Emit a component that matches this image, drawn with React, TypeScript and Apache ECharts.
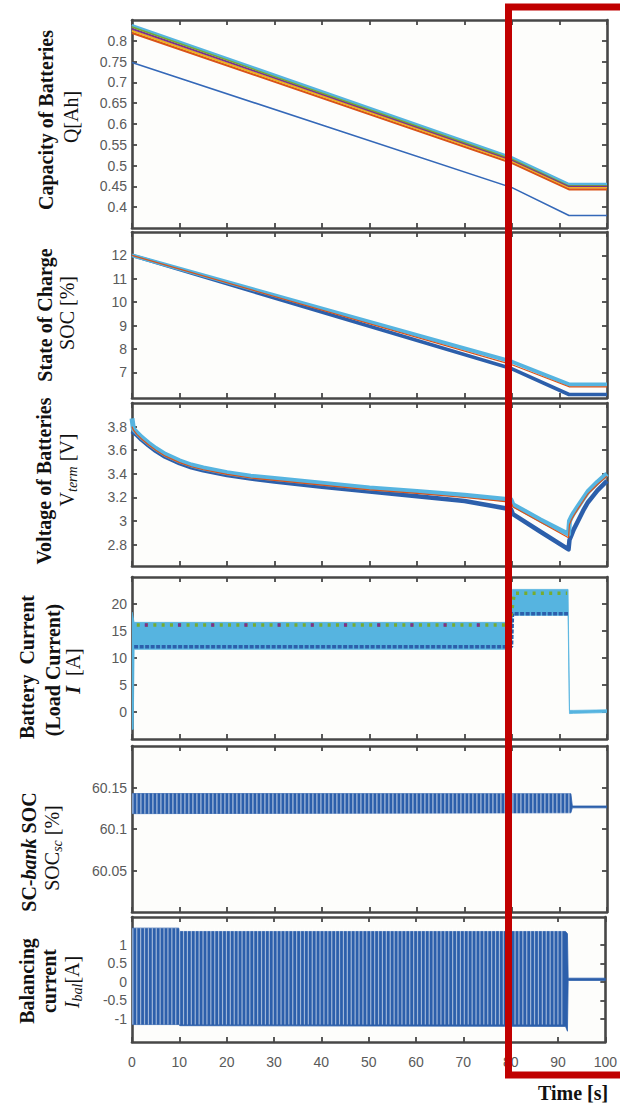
import React, { useEffect, useRef } from "react";
import * as echarts from "echarts";

// ---------- data ----------
const X_TICKS = [0, 10, 20, 30, 40, 50, 60, 70, 80, 90, 100];

// Panel 1: capacity of batteries Q [Ah]
const CAP_T = [0, 80, 92, 100];
const CAP_BLUE = [0.748, 0.447, 0.38, 0.38];
const CAP_ORANGE = [0.819, 0.506, 0.443, 0.443];
const CAP_YELLOW = [0.824, 0.511, 0.448, 0.448];
const CAP_PURPLE = [0.829, 0.514, 0.451, 0.451];
const CAP_GREEN = [0.834, 0.517, 0.454, 0.454];
const CAP_CYAN = [0.838, 0.52, 0.456, 0.456];
const CAP_TICKS = [0.4, 0.45, 0.5, 0.55, 0.6, 0.65, 0.7, 0.75, 0.8];

// Panel 2: state of charge [%]
const SOC_T = [0, 80, 92, 100];
const SOC_BLUE = [12, 7.15, 6.05, 6.05];
const SOC_ORANGE = [12, 7.32, 6.38, 6.38];
const SOC_CYAN = [12, 7.45, 6.48, 6.48];
const SOC_TICKS = [7, 8, 9, 10, 11, 12];

// Panel 3: terminal voltage [V]
const V_T = [0, 0.3, 1, 2, 3.5, 5, 7, 10, 12.5, 15, 20, 25, 30, 40, 50, 60, 70, 79.8, 80.2, 86, 91.9, 92.1, 92.5, 93, 94, 95, 96, 97, 98, 99, 100];
const V_CYAN = [3.87, 3.78, 3.75, 3.71, 3.66, 3.615, 3.565, 3.51, 3.475, 3.45, 3.41, 3.38, 3.36, 3.32, 3.28, 3.25, 3.22, 3.18, 3.14, 3.01, 2.89, 3.0, 3.035, 3.07, 3.13, 3.19, 3.25, 3.29, 3.33, 3.365, 3.4];
const V_ORANGE = [3.8, 3.77, 3.735, 3.695, 3.645, 3.6, 3.55, 3.495, 3.46, 3.435, 3.395, 3.365, 3.345, 3.305, 3.265, 3.235, 3.2, 3.16, 3.12, 2.99, 2.86, 2.97, 3.01, 3.045, 3.11, 3.17, 3.23, 3.27, 3.31, 3.345, 3.38];
const V_BLUE = [3.76, 3.75, 3.73, 3.69, 3.64, 3.595, 3.545, 3.49, 3.455, 3.43, 3.39, 3.36, 3.335, 3.29, 3.25, 3.21, 3.17, 3.1, 3.06, 2.91, 2.76, 2.84, 2.88, 2.93, 3.01, 3.09, 3.16, 3.21, 3.26, 3.3, 3.34];
const V_TICKS = [2.8, 3, 3.2, 3.4, 3.6, 3.8];

// Panel 4: battery current [A]
const I_T = [0, 0.25, 0.45, 79.9, 80.1, 91.8, 92.1, 93, 100];
const I_LO = [-3.2, -3.2, 11.6, 11.6, 17.9, 17.9, -0.3, -0.25, -0.1];
const I_HI = [18.5, 17.5, 16.6, 16.6, 22.7, 22.7, 0.3, 0.3, 0.4];
const I_BLUE_T = [0.45, 79.9, 80.1, 91.8];
const I_BLUE = [12.1, 12.1, 18.2, 18.2];
const I_GREEN_T = [1, 79.5, 80.5, 91.6];
const I_GREEN = [16.1, 16.1, 22.0, 22.0];
const I_PURPLE_T = [1, 79.5];
const I_PURPLE = [16.1, 16.1];
const I_TICKS = [0, 5, 10, 15, 20];

// Panel 5: SC-bank SOC [%]
const SC_T = [0, 92.4, 92.7, 100];
const SC_LO = [60.1185, 60.1195, 60.1255, 60.1255];
const SC_HI = [60.1427, 60.1425, 60.1277, 60.1277];
const SC_TICKS = [60.05, 60.1, 60.15];

// Panel 6: balancing current [A]
const BAL_T = [0, 9.9, 10.1, 91.6, 92.0, 92.15, 100];
const BAL_LO = [-1.15, -1.15, -1.18, -1.2, -1.33, 0.04, 0.04];
const BAL_HI = [1.45, 1.45, 1.36, 1.36, 1.3, 0.1, 0.1];
const BAL_TICKS = [-1, -0.5, 0, 0.5, 1];

// ---------- layout / style ----------
const SERIF = "'Liberation Serif', 'Times New Roman', serif";
const SANS = "'Liberation Sans', Arial, sans-serif";
const FRAME = "#474747";
const LABEL = "#5a5a5a";
const C_BLUE = "#2c5fab";
const C_CYAN = "#56b4e0";
const C_ORANGE = "#d95319";
const C_YELLOW = "#edb120";
const C_PURPLE = "#7e2f8e";
const C_GREEN = "#77ac30";

const GRIDS = [
  { top: 20, h: 208, min: 0.35, max: 0.85, ticks: CAP_TICKS },
  { top: 232, h: 166, min: 5.9, max: 13, ticks: SOC_TICKS },
  { top: 403, h: 163, min: 2.62, max: 4.0, ticks: V_TICKS },
  { top: 577, h: 162, min: -5, max: 25, ticks: I_TICKS },
  { top: 746, h: 166, min: 60, max: 60.2, ticks: SC_TICKS },
  { top: 917, h: 125, min: -1.62, max: 1.75, ticks: BAL_TICKS },
];
const LEFT = 132;
const PW = 475;

const zip = (t: number[], v: number[]) => t.map((x, i) => [x, v[i]]);

function line(gi: number, t: number[], v: number[], color: string, width: number, extra: any = {}) {
  return {
    type: "line",
    xAxisIndex: gi * 2,
    yAxisIndex: gi * 2,
    data: zip(t, v),
    symbol: "none",
    silent: true,
    lineStyle: { color, width, ...extra },
    z: 3,
  };
}

// filled envelope between lo and hi, drawn as one polygon through the axis scales
function band(gi: number, t: number[], lo: number[], hi: number[], color: string) {
  const data = t.map((x, i) => [x, lo[i], hi[i]]);
  return {
    type: "custom",
    xAxisIndex: gi * 2,
    yAxisIndex: gi * 2,
    data,
    silent: true,
    clip: true,
    z: 2,
    encode: { x: 0, y: [1, 2] },
    renderItem: (params: any, api: any) => {
      if (params.dataIndex !== 0) return null;
      const upper = data.map((d) => api.coord([d[0], d[2]]));
      const lower = data.map((d) => api.coord([d[0], d[1]])).reverse();
      return {
        type: "polygon",
        shape: { points: upper.concat(lower) },
        style: { fill: color, stroke: color, lineWidth: 0.8 },
      };
    },
  };
}

function stripes(gi: number, tEnd: number, lo: number, hi: number, period: number, gap: number) {
  const g = GRIDS[gi];
  const px = ((hi - lo) / (g.max - g.min)) * g.h;
  const c = (hi + lo) / 2;
  return {
    type: "line",
    xAxisIndex: gi * 2,
    yAxisIndex: gi * 2,
    data: [
      [0.05, c],
      [tEnd, c],
    ],
    symbol: "none",
    silent: true,
    lineStyle: { color: "#ffffff", width: px, type: [gap, period - gap], cap: "butt", opacity: 0.55 },
    z: 4,
  };
}

function vText(x: number, y: number, text: string, rich: any) {
  return {
    type: "text",
    x,
    y,
    rotation: Math.PI / 2,
    z: 50,
    style: {
      text,
      rich,
      align: "center",
      verticalAlign: "middle",
      textAlign: "center",
      textVerticalAlign: "middle",
      fill: "#111",
    },
  };
}

const RICH = {
  b: { fontFamily: SERIF, fontSize: 20, fontWeight: "bold", color: "#111", lineHeight: 24 },
  bi: { fontFamily: SERIF, fontSize: 20, fontWeight: "bold", fontStyle: "italic", color: "#111", lineHeight: 24 },
  n: { fontFamily: SERIF, fontSize: 20, color: "#222", lineHeight: 24 },
  i: { fontFamily: SERIF, fontSize: 20, fontStyle: "italic", color: "#222", lineHeight: 24 },
  sub: { fontFamily: SERIF, fontSize: 14, fontStyle: "italic", color: "#222", lineHeight: 14, verticalAlign: "bottom", padding: [8, 0, 0, 0] },
};

export default function App() {
  const ref = useRef<HTMLDivElement>(null);
  useEffect(() => {
    document.body.style.margin = "0";
    if (!ref.current) return;
    const chart = echarts.init(ref.current, undefined, { renderer: "svg" });

    const grid = GRIDS.map((g) => ({
      left: LEFT,
      top: g.top,
      width: PW,
      height: g.h,
      show: true,
      backgroundColor: "#fdfdfb",
      borderWidth: 0,
      containLabel: false,
    }));

    const axisLine = { show: true, onZero: false, lineStyle: { color: FRAME, width: 2.6 } };
    const axisTick = { show: true, inside: true, length: 5, lineStyle: { color: FRAME, width: 1.8 } };

    const xAxis: any[] = [];
    const yAxis: any[] = [];
    GRIDS.forEach((g, i) => {
      const last = i === GRIDS.length - 1;
      const base = {
        type: "value",
        gridIndex: i,
        min: 0,
        max: 100,
        interval: 10,
        axisLine,
        axisTick,
        splitLine: { show: false },
      };
      xAxis.push({
        ...base,
        position: "bottom",
        axisLabel: {
          show: last,
          color: LABEL,
          fontFamily: SANS,
          fontSize: 14,
          margin: 13,
          formatter: (v: number) => (X_TICKS.includes(v) ? String(v) : ""),
        },
      });
      xAxis.push({ ...base, position: "top", axisLabel: { show: false } });
      const ybase = {
        type: "value",
        gridIndex: i,
        min: g.min,
        max: g.max,
        axisLine,
        splitLine: { show: false },
      };
      yAxis.push({
        ...ybase,
        position: "left",
        axisTick: { ...axisTick, customValues: g.ticks },
        axisLabel: {
          show: true,
          customValues: g.ticks,
          color: LABEL,
          fontFamily: SANS,
          fontSize: 14,
          margin: 5,
          formatter: (v: number) => String(v),
        },
      });
      yAxis.push({
        ...ybase,
        position: "right",
        axisTick: { ...axisTick, customValues: g.ticks },
        axisLabel: { show: false },
      });
    });

    const series: any[] = [
      // panel 1
      line(0, CAP_T, CAP_BLUE, "#3468b8", 1.6),
      line(0, CAP_T, CAP_ORANGE, C_ORANGE, 2.2),
      line(0, CAP_T, CAP_YELLOW, C_YELLOW, 2.2),
      line(0, CAP_T, CAP_PURPLE, C_PURPLE, 2),
      line(0, CAP_T, CAP_GREEN, C_GREEN, 2.2),
      line(0, CAP_T, CAP_CYAN, C_CYAN, 2.2),
      // panel 2
      line(1, SOC_T, SOC_BLUE, C_BLUE, 3.6),
      line(1, SOC_T, SOC_CYAN, C_CYAN, 4),
      line(1, SOC_T, SOC_ORANGE, C_ORANGE, 1.2),
      // panel 3
      line(2, V_T, V_BLUE, C_BLUE, 4.5, { join: "round" }),
      line(2, V_T, V_CYAN, C_CYAN, 5, { join: "round" }),
      line(2, V_T, V_ORANGE, C_ORANGE, 1.2),
      // panel 4
      band(3, I_T, I_LO, I_HI, C_CYAN),
      line(3, I_BLUE_T, I_BLUE, C_BLUE, 3.5, { type: [4, 1.5], cap: "butt" }),
      line(3, I_GREEN_T, I_GREEN, C_GREEN, 3.5, { type: [3, 5.3], cap: "butt" }),
      line(3, I_PURPLE_T, I_PURPLE, C_PURPLE, 3.5, { type: [3, 30.2], cap: "butt", dashOffset: -8.3 }),
      // panel 5
      band(4, SC_T, SC_LO, SC_HI, C_BLUE),
      stripes(4, 92.3, SC_LO[0], SC_HI[0], 4, 1.3),
      // panel 6
      band(5, BAL_T, BAL_LO, BAL_HI, C_BLUE),
      stripes(5, 91.5, BAL_LO[0], BAL_HI[0], 3.9, 1.2),
    ];

    const graphic: any[] = [
      vText(46, 120, "{b|Capacity of Batteries}", RICH),
      vText(71, 117, "{n|Q[Ah]}", RICH),
      vText(45, 315, "{b|State of Charge}", RICH),
      vText(67, 313, "{n|SOC [%]}", RICH),
      vText(44, 481, "{b|Voltage of Batteries}", RICH),
      vText(67, 470, "{n|V}{sub|term}{n| [V]}", RICH),
      vText(27, 667, "{b|Battery  Current}", RICH),
      vText(53, 670, "{b|(Load Current)}", RICH),
      vText(73, 671, "{bi|I}{n|  [A]}", RICH),
      vText(29, 852, "{b|SC-}{bi|bank}{b| SOC}", RICH),
      vText(52, 848, "{n|SOC}{sub|sc}{n| [%]}", RICH),
      vText(27, 981, "{b|Balancing}", RICH),
      vText(49, 981, "{b|current}", RICH),
      vText(72, 982, "{i|I}{sub|bal}{n|[A]}", RICH),
      {
        type: "text",
        x: 538,
        y: 1093,
        z: 50,
        style: {
          text: "Time [s]",
          fontFamily: SERIF,
          fontSize: 20,
          fontWeight: "bold",
          fill: "#111",
          align: "left",
          verticalAlign: "middle",
          textAlign: "left",
          textVerticalAlign: "middle",
        },
      },
      {
        type: "rect",
        z: 100,
        shape: { x: 508.5, y: 7, width: 300, height: 1068 },
        style: { fill: "none", stroke: "#c00000", lineWidth: 7 },
      },
    ];

    chart.setOption({
      animation: false,
      backgroundColor: "#ffffff",
      grid,
      xAxis,
      yAxis,
      series,
      graphic,
    });
    return () => chart.dispose();
  }, []);
  return (
    <div
      ref={ref}
      style={{ width: 620, height: 1107, position: "absolute", left: 0, top: 0 }}
    />
  );
}
